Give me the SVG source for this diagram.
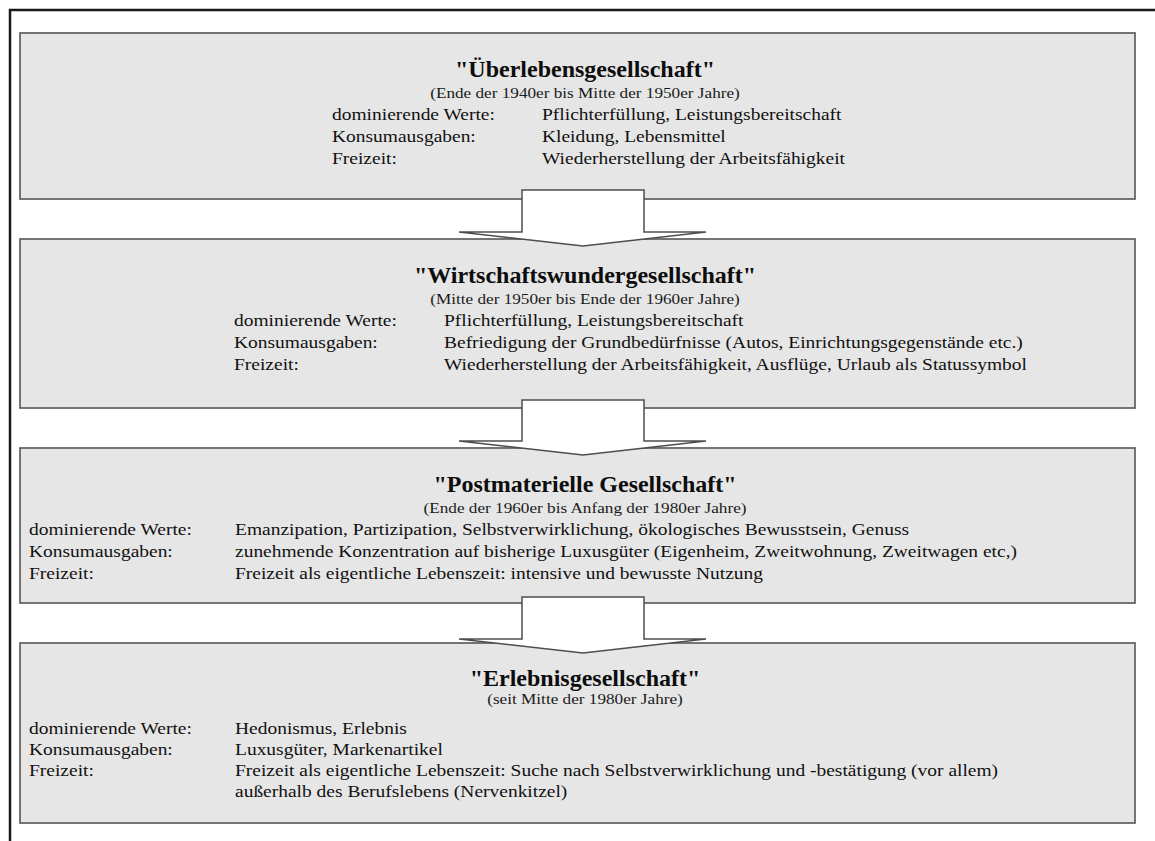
<svg xmlns="http://www.w3.org/2000/svg" width="1155" height="841" viewBox="0 0 1155 841">
<style>
.box{fill:#e6e6e6;stroke:#5e5e5e;stroke-width:1.7}
.arrow{fill:#fff;stroke:#4d4d4d;stroke-width:1.5;stroke-linejoin:miter}
.title{font-family:"Liberation Serif","Times New Roman",serif;font-weight:bold;font-size:24px;fill:#0d0d0d;text-anchor:middle}
.sub{font-family:"Liberation Serif","Times New Roman",serif;font-size:15px;fill:#1a1a1a;text-anchor:middle}
.body{font-family:"Liberation Serif","Times New Roman",serif;font-size:17.5px;fill:#111}
</style>
<rect width="1155" height="841" fill="#fff"/>
<path d="M10,841 V10 H1155" fill="none" stroke="#1a1a1a" stroke-width="2.5"/>

<g id="node1">
<rect class="box" x="20" y="33" width="1115" height="166"/>
<text class="title" x="585" y="77">"Überlebensgesellschaft"</text>
<text class="sub" transform="translate(585,98) scale(1.146,1)">(Ende der 1940er bis Mitte der 1950er Jahre)</text>
<g transform="translate(332,0) scale(1.113,1)">
<text class="body" x="0" y="120">dominierende Werte:</text>
<text class="body" x="188.7" y="120">Pflichterfüllung, Leistungsbereitschaft</text>
<text class="body" x="0" y="142">Konsumausgaben:</text>
<text class="body" x="188.7" y="142">Kleidung, Lebensmittel</text>
<text class="body" x="0" y="164">Freizeit:</text>
<text class="body" x="188.7" y="164">Wiederherstellung der Arbeitsfähigkeit</text>
</g>
</g>

<g id="node2">
<rect class="box" x="20" y="239" width="1115" height="169"/>
<text class="title" x="585" y="283">"Wirtschaftswundergesellschaft"</text>
<text class="sub" transform="translate(585,304) scale(1.146,1)">(Mitte der 1950er bis Ende der 1960er Jahre)</text>
<g transform="translate(234,0) scale(1.113,1)">
<text class="body" x="0" y="326">dominierende Werte:</text>
<text class="body" x="188.7" y="326">Pflichterfüllung, Leistungsbereitschaft</text>
<text class="body" x="0" y="348">Konsumausgaben:</text>
<text class="body" x="188.7" y="348">Befriedigung der Grundbedürfnisse (Autos, Einrichtungsgegenstände etc.)</text>
<text class="body" x="0" y="370">Freizeit:</text>
<text class="body" x="188.7" y="370">Wiederherstellung der Arbeitsfähigkeit, Ausflüge, Urlaub als Statussymbol</text>
</g>
</g>

<g id="node3">
<rect class="box" x="20" y="448" width="1115" height="155"/>
<text class="title" x="585" y="492">"Postmaterielle Gesellschaft"</text>
<text class="sub" transform="translate(585,513) scale(1.146,1)">(Ende der 1960er bis Anfang der 1980er Jahre)</text>
<g transform="translate(29,0) scale(1.113,1)">
<text class="body" x="0" y="535">dominierende Werte:</text>
<text class="body" x="185.1" y="535">Emanzipation, Partizipation, Selbstverwirklichung, ökologisches Bewusstsein, Genuss</text>
<text class="body" x="0" y="557">Konsumausgaben:</text>
<text class="body" x="185.1" y="557">zunehmende Konzentration auf bisherige Luxusgüter (Eigenheim, Zweitwohnung, Zweitwagen etc,)</text>
<text class="body" x="0" y="579">Freizeit:</text>
<text class="body" x="185.1" y="579">Freizeit als eigentliche Lebenszeit: intensive und bewusste Nutzung</text>
</g>
</g>

<g id="node4">
<rect class="box" x="20" y="643" width="1115" height="180"/>
<text class="title" x="585" y="686">"Erlebnisgesellschaft"</text>
<text class="sub" transform="translate(585,704) scale(1.146,1)">(seit Mitte der 1980er Jahre)</text>
<g transform="translate(29,0) scale(1.113,1)">
<text class="body" x="0" y="734">dominierende Werte:</text>
<text class="body" x="185.1" y="734">Hedonismus, Erlebnis</text>
<text class="body" x="0" y="755">Konsumausgaben:</text>
<text class="body" x="185.1" y="755">Luxusgüter, Markenartikel</text>
<text class="body" x="0" y="776">Freizeit:</text>
<text class="body" x="185.1" y="776">Freizeit als eigentliche Lebenszeit: Suche nach Selbstverwirklichung und -bestätigung (vor allem)</text>
<text class="body" x="185.1" y="797">außerhalb des Berufslebens (Nervenkitzel)</text>
</g>
</g>

<g id="connectors">
<polygon class="arrow" points="522,190 644,190 644,232 706,232 583,246 459,232 522,232"/>
<polygon class="arrow" points="522,400 644,400 644,441 706,441 583,455 459,441 522,441"/>
<polygon class="arrow" points="522,597 644,597 644,639 706,639 583,653 459,639 522,639"/>
</g>
</svg>
